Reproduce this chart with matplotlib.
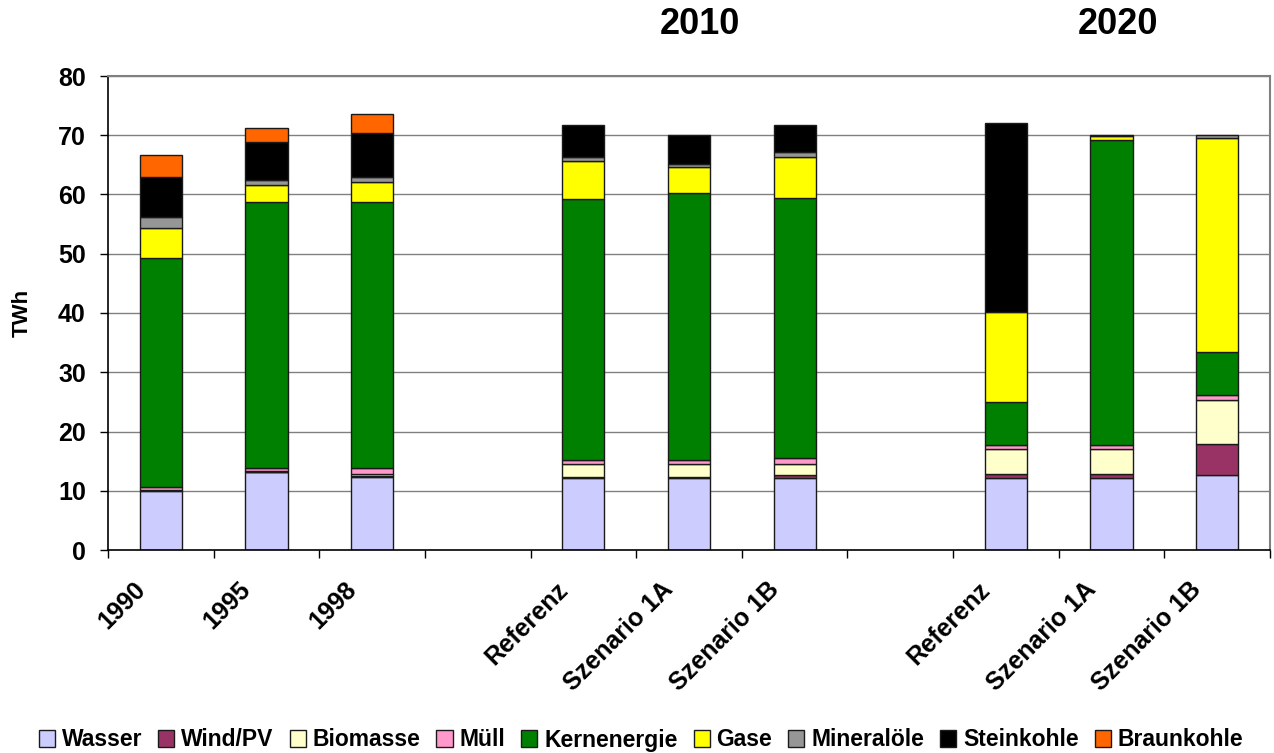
import matplotlib
matplotlib.use("Agg")
import matplotlib.pyplot as plt
from matplotlib.patches import Patch
from matplotlib.transforms import ScaledTranslation
import numpy as np

plt.rcParams['font.family'] = ['Liberation Sans', 'DejaVu Sans']
plt.rcParams['font.weight'] = 'bold'

# Category slots along the x axis ('' = empty spacer slot)
slots = ['1990', '1995', '1998', '',
         'Referenz', 'Szenario 1A', 'Szenario 1B', '',
         'Referenz', 'Szenario 1A', 'Szenario 1B']
group_titles = ['2010', '2020']

# Electricity generation by source in TWh (one value per bar)
wasser      = [10.0, 13.1, 12.4, 12.2, 12.2, 12.2, 12.2, 12.2, 12.7]
wind_pv     = [0.0, 0.1, 0.1, 0.2, 0.2, 0.4, 0.6, 0.6, 5.2]
biomasse    = [0.1, 0.1, 0.4, 2.1, 2.1, 1.9, 4.2, 4.2, 7.5]
muell       = [0.6, 0.6, 0.9, 0.7, 0.7, 1.0, 0.7, 0.7, 0.8]
kernenergie = [38.6, 44.8, 44.9, 44.0, 45.1, 43.9, 7.3, 51.5, 7.3]
gase        = [5.0, 2.85, 3.4, 6.5, 4.4, 7.0, 15.2, 0.7, 36.0]
mineraloele = [1.9, 0.85, 0.9, 0.6, 0.5, 0.7, 0.0, 0.2, 0.6]
steinkohle  = [6.7, 6.5, 7.4, 5.5, 4.8, 4.7, 31.9, 0.0, 0.0]
braunkohle  = [3.7, 2.4, 3.2, 0.0, 0.0, 0.0, 0.0, 0.0, 0.0]

series = [
    ('Wasser', wasser, '#CCCCFF'),
    ('Wind/PV', wind_pv, '#993366'),
    ('Biomasse', biomasse, '#FFFFCC'),
    ('Müll', muell, '#FF99CC'),
    ('Kernenergie', kernenergie, '#008000'),
    ('Gase', gase, '#FFFF00'),
    ('Mineralöle', mineraloele, '#969696'),
    ('Steinkohle', steinkohle, '#000000'),
    ('Braunkohle', braunkohle, '#FF6600'),
]

x_bars = np.array([i for i, s in enumerate(slots) if s])

fig = plt.figure(figsize=(12.74, 7.53), dpi=100)
ax = fig.add_axes([108 / 1274, 1 - 550 / 753, 1162 / 1274, 474 / 753])

# Horizontal grid behind the bars
for yv in range(10, 81, 10):
    ax.axhline(yv, color='#808080', linewidth=1.0, zorder=0)

bottom = np.zeros(len(x_bars))
handles = []
for name, vals, color in series:
    vals = np.asarray(vals, dtype=float)
    mask = vals > 0
    ax.bar(x_bars[mask], vals[mask], width=0.4, bottom=bottom[mask],
           color=color, edgecolor='#1a1a1a', linewidth=1.0, zorder=2)
    bottom += vals
    handles.append(Patch(facecolor=color, edgecolor='#1a1a1a',
                         linewidth=1.0, label=name))

ax.set_xlim(-0.5, len(slots) - 0.5)
ax.set_ylim(0, 80)

# Ticks: marks on the slot boundaries, labels at slot centres
ax.set_xticks(np.arange(-0.5, len(slots) + 0.5, 1.0))
ax.set_xticklabels([])
ax.tick_params(axis='x', which='major', length=6, width=1, color='black', direction='out')
ax.set_xticks(np.arange(len(slots)), minor=True)
ax.set_xticklabels(slots, minor=True, rotation=45, ha='right',
                   rotation_mode='anchor', fontsize=18, fontweight='bold')
ax.tick_params(axis='x', which='minor', length=0, pad=14)
shift = ScaledTranslation(-28 / 100, -8 / 100, fig.dpi_scale_trans)
for lbl in ax.get_xticklabels(minor=True):
    lbl.set_transform(lbl.get_transform() + shift)

ax.set_yticks(range(0, 81, 10))
ax.set_yticklabels([str(v) for v in range(0, 81, 10)], fontsize=18, fontweight='bold')
ax.tick_params(axis='y', length=6, width=1, color='black', direction='out', pad=10)

ax.set_ylabel('TWh', fontsize=16, fontweight='bold', labelpad=18)

for side in ['top', 'right']:
    ax.spines[side].set_color('#808080')
    ax.spines[side].set_linewidth(1.5)
for side in ['left', 'bottom']:
    ax.spines[side].set_color('black')
    ax.spines[side].set_linewidth(1.2)

# Scenario group headings
fig.text(700 / 1274, 1 - 25 / 753, group_titles[0], ha='center', va='center',
         fontsize=26, fontweight='bold')
fig.text(1118 / 1274, 1 - 25 / 753, group_titles[1], ha='center', va='center',
         fontsize=26, fontweight='bold')

fig.legend(handles=handles, loc='center', bbox_to_anchor=(641 / 1274, 1 - 740 / 753),
           ncol=9, frameon=False, handlelength=0.7, handleheight=0.7,
           handletextpad=0.3, columnspacing=0.7, borderpad=0.1,
           prop={'size': 16.5, 'weight': 'bold'})

fig.savefig('out.png', dpi=100)
